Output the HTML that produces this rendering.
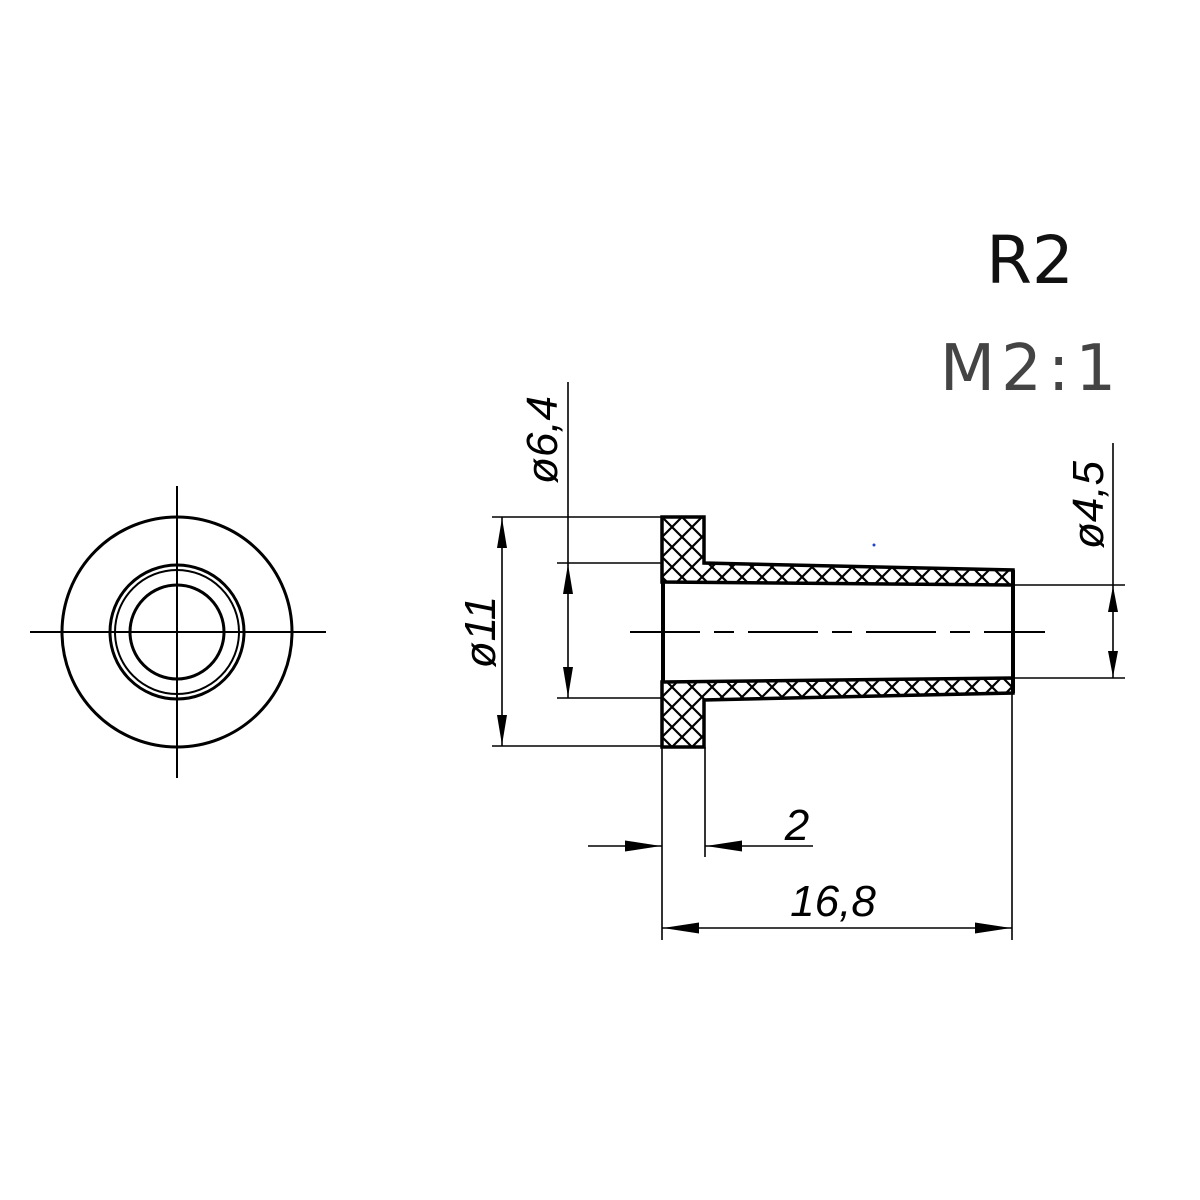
<!DOCTYPE html>
<html><head><meta charset="utf-8"><style>html,body{margin:0;padding:0;background:#fff}svg{display:block}</style></head>
<body>
<svg width="1200" height="1200" viewBox="0 0 1200 1200" xmlns="http://www.w3.org/2000/svg">
<defs>
<pattern id="h" width="20" height="20" patternUnits="userSpaceOnUse" x="662" y="517">
<path d="M0 0L20 20M20 0L0 20" stroke="#000" stroke-width="2.2"/>
</pattern>
</defs>
<!-- front view -->
<g fill="none" stroke="#000" stroke-width="3">
<circle cx="177" cy="632" r="115"/>
<circle cx="177" cy="632" r="67"/>
<circle cx="177" cy="632" r="62" stroke-width="2"/>
<circle cx="177" cy="632" r="47"/>
</g>
<g stroke="#000" stroke-width="2">
<line x1="177" y1="486" x2="177" y2="778"/>
<line x1="30" y1="632" x2="326" y2="632"/>
</g>
<!-- side view hatched -->
<g stroke="#000" stroke-width="3.5" fill="url(#h)" stroke-linejoin="miter">
<path d="M662 517H704V563L1013 570V585L662 582Z"/>
<path d="M662 682L1013 678V693L704 700V747H662Z"/>
</g>
<g stroke="#000" stroke-width="4">
<line x1="663" y1="582" x2="663" y2="682"/>
<line x1="1013" y1="570" x2="1013" y2="693"/>
</g>
<line x1="630" y1="632" x2="1045" y2="632" stroke="#000" stroke-width="2" stroke-dasharray="70,14,20,14"/>
<!-- dimension lines -->
<g stroke="#000" stroke-width="1.6">
<line x1="492" y1="517" x2="662" y2="517"/>
<line x1="492" y1="746" x2="662" y2="746"/>
<line x1="557" y1="563" x2="662" y2="563"/>
<line x1="557" y1="698" x2="662" y2="698"/>
<line x1="568" y1="382" x2="568" y2="698"/>
<line x1="502" y1="517" x2="502" y2="746"/>
<line x1="1013" y1="585" x2="1125" y2="585"/>
<line x1="1013" y1="678" x2="1125" y2="678"/>
<line x1="1113" y1="443" x2="1113" y2="678"/>
<line x1="662" y1="747" x2="662" y2="940"/>
<line x1="705" y1="747" x2="705" y2="857"/>
<line x1="1012" y1="693" x2="1012" y2="940"/>
<line x1="588" y1="846" x2="662" y2="846"/>
<line x1="813" y1="846" x2="705" y2="846"/>
<line x1="662" y1="928" x2="1012" y2="928"/>
</g>
<g fill="#000">
<!-- ø11 -->
<path d="M502 518L497 548L507 548Z"/><path d="M502 745L497 715L507 715Z"/>
<!-- ø6,4 -->
<path d="M568 564L563 594L573 594Z"/><path d="M568 697L563 667L573 667Z"/>
<!-- ø4,5 -->
<path d="M1113 586L1108 612L1118 612Z"/><path d="M1113 677L1108 651L1118 651Z"/>
<!-- 2 -->
<path d="M661 846L625 840.5L625 851.5Z"/><path d="M706 846L742 840.5L742 851.5Z"/>
<!-- 16,8 -->
<path d="M663 928L699 922.5L699 933.5Z"/><path d="M1011 928L975 922.5L975 933.5Z"/>
</g>
<!-- labels -->
<g font-family="Liberation Sans, DejaVu Sans, sans-serif" font-style="italic" font-size="44" fill="#000">
<text x="0" y="0" text-anchor="middle" transform="translate(557,440) rotate(-90)">ø6,4</text>
<text x="0" y="0" text-anchor="middle" transform="translate(495,632) rotate(-90)">ø11</text>
<text x="0" y="0" text-anchor="middle" transform="translate(1103,505) rotate(-90)">ø4,5</text>
<text x="797" y="840" text-anchor="middle">2</text>
<text x="833" y="916" text-anchor="middle">16,8</text>
</g>
<text x="1030" y="283" text-anchor="middle" font-family="DejaVu Sans, Liberation Sans, sans-serif" font-size="66" fill="#111">R2</text>
<text x="1031" y="390" text-anchor="middle" font-family="DejaVu Sans, Liberation Sans, sans-serif" font-size="64" letter-spacing="6" fill="#444">M2:1</text>
<circle cx="874" cy="545" r="1.5" fill="#2244cc"/>
</svg>
</body></html>
